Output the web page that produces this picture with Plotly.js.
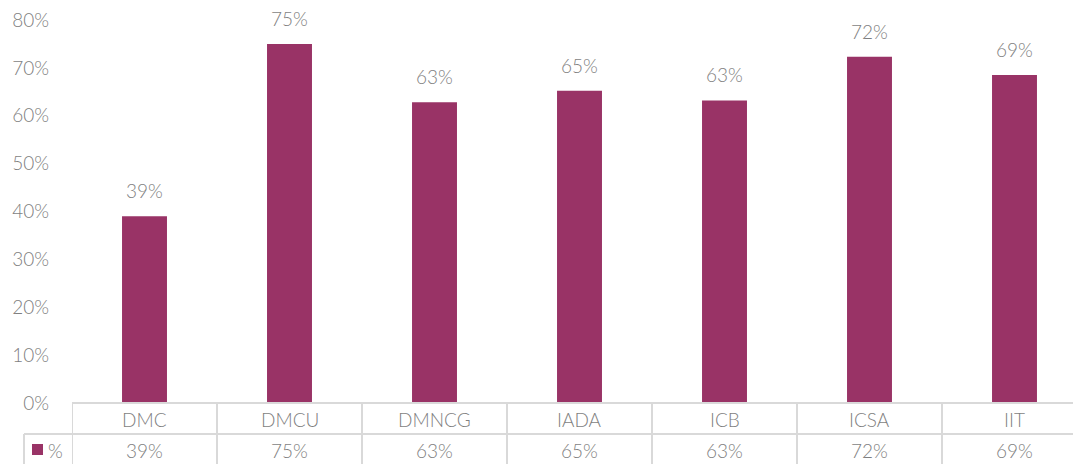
<!DOCTYPE html>
<html><head><meta charset="utf-8">
<script src="https://cdn.plot.ly/plotly-3.0.1.min.js"></script>
<style>html,body{margin:0;padding:0;overflow:hidden;background:#fff}</style>
</head><body>
<div id="chart" style="width:1073px;height:464px"></div>
<script>
const categories = ["DMC", "DMCU", "DMNCG", "IADA", "ICB", "ICSA", "IIT"];
const values = [0.39, 0.75, 0.628, 0.652, 0.632, 0.723, 0.685];
const valueLabels = ["39%", "75%", "63%", "65%", "63%", "72%", "69%"];
const seriesName = "%";

const barColor = "#993366";
const textColor = "#7f7f7f";
const lineColor = "#d9d9d9";
const fontFamily = "Lato, 'Open Sans', sans-serif";
const plotH = 383;
const plotW = 1001;
const colW = 145;
const fs = 19;
const tf = {size: fs, color: textColor, family: fontFamily, weight: 300};

const annotations = [];
categories.forEach((c, i) => {
  annotations.push({x: c, y: values[i], xref: 'x', yref: 'y', text: valueLabels[i], showarrow: false,
    yanchor: 'bottom', yshift: 12, font: tf});
  annotations.push({x: c, y: 0, xref: 'x', yref: 'paper', text: c, showarrow: false,
    yanchor: 'middle', yshift: -16, font: tf});
  annotations.push({x: c, y: 0, xref: 'x', yref: 'paper', text: valueLabels[i], showarrow: false,
    yanchor: 'middle', yshift: -47, font: tf});
});
annotations.push({x: -26/plotW, y: 0, xref: 'paper', yref: 'paper', text: seriesName, showarrow: false,
  xanchor: 'left', yanchor: 'middle', yshift: -47, font: tf});

const ln = {color: lineColor, width: 2};
const shapes = [];
const yRow1 = -31/plotH, yBot = -70/plotH;
const xLeft = -48/plotW;
shapes.push({type: 'line', xref: 'x', yref: 'paper', x0: -0.5, x1: categories.length - 0.5, y0: 0, y1: 0, line: ln});
shapes.push({type: 'line', xref: 'paper', yref: 'paper', x0: xLeft, x1: 1.05, y0: yRow1, y1: yRow1, line: ln});
shapes.push({type: 'line', xref: 'paper', yref: 'paper', x0: xLeft, x1: xLeft, y0: yRow1, y1: yBot, line: ln});
for (let i = 0; i <= categories.length; i++) {
  shapes.push({type: 'line', xref: 'x', yref: 'paper', x0: i - 0.5, x1: i - 0.5, y0: 0, y1: yBot, line: ln});
}
// legend key
shapes.push({type: 'rect', xref: 'paper', yref: 'paper', x0: -40/plotW, x1: -29/plotW,
  y0: -41/plotH, y1: -52/plotH, fillcolor: barColor, line: {width: 0}});

const trace = {type: 'bar', x: categories, y: values, name: seriesName,
  marker: {color: barColor}, width: 0.31, hoverinfo: 'skip'};

const layout = {
  width: 1073, height: 464,
  margin: {l: 72, r: 0, t: 20, b: 61},
  paper_bgcolor: '#fff', plot_bgcolor: '#fff',
  showlegend: false,
  font: {family: fontFamily, color: textColor, weight: 300},
  xaxis: {range: [-0.5, -0.5 + plotW/colW], showticklabels: false, showgrid: false,
    zeroline: false, showline: false, ticks: '', fixedrange: true},
  yaxis: {range: [0, 0.8], dtick: 0.1, tick0: 0, tickformat: '.0%', showgrid: false, zeroline: false,
    showline: false, ticks: 'outside', ticklen: 18, tickcolor: 'rgba(0,0,0,0)', tickfont: tf},
  annotations: annotations,
  shapes: shapes
};
Plotly.newPlot('chart', [trace], layout, {displayModeBar: false, staticPlot: true});
</script>
</body></html>
